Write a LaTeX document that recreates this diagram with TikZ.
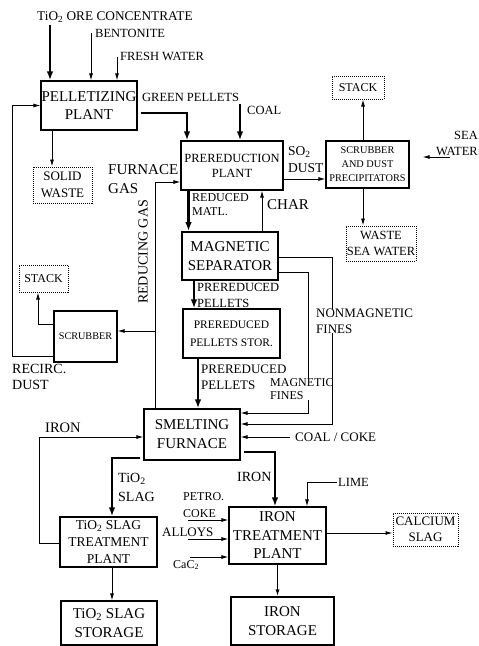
\documentclass[tikz,border=0pt]{standalone}
\usepackage{fontspec}
\setmainfont{Liberation Serif}
\usepackage{xcolor}
\usepackage{tikz}
\usetikzlibrary{shapes,arrows,arrows.meta,positioning,fit,backgrounds,calc}

\newcommand{\boxfont}{\fontsize{15}{18.5}\selectfont}
\newcommand{\lblfont}{\fontsize{12.5}{15.5}\selectfont}

\begin{document}
\begin{tikzpicture}[x=1pt, y=-1pt,
    block/.style={rectangle, draw, line width=1.1pt, inner sep=0pt, align=center, font=\boxfont},
    dotblock/.style={rectangle, draw, densely dotted, line width=1pt, inner sep=0pt, align=center, font={\fontsize{12.5}{16}\selectfont}},
    lbl/.style={inner sep=0pt, anchor=west, align=left, font=\lblfont},
    arrow/.style={-{Latex[length=7pt,width=4pt]}, line width=0.9pt},
    fat/.style={-{Latex[length=9pt,width=6.5pt]}, line width=2.6pt}]
  \useasboundingbox (0,0) rectangle (479,646);

  \node[block, minimum width=96pt, minimum height=49pt] (PP) at (89,105.5) {PELLETIZING\\PLANT};
  \node[block, minimum width=102pt, minimum height=49pt, font={\fontsize{12.5}{15}\selectfont}] (PR) at (232,165.5) {PREREDUCTION\\PLANT};
  \node[block, minimum width=83pt, minimum height=47pt, font={\fontsize{10.3}{14}\selectfont}] (SD) at (367.5,164.5) {SCRUBBER\\AND DUST\\PRECIPITATORS};
  \node[dotblock, minimum width=52pt, minimum height=23pt, font={\fontsize{12}{14}\selectfont}] (STK1) at (358,87.5) {STACK};
  \node[dotblock, minimum width=70pt, minimum height=35pt] (WSW) at (381,243.5) {WASTE\\SEA WATER};
  \node[dotblock, minimum width=59pt, minimum height=36pt, font={\fontsize{13}{17}\selectfont}] (SW) at (62.5,185) {SOLID\\WASTE};
  \node[block, line width=1.6pt, minimum width=96pt, minimum height=48pt, font={\fontsize{15}{19}\selectfont}] (MS) at (230,256) {MAGNETIC\\SEPARATOR};
  \node[block, minimum width=97pt, minimum height=49pt, font={\fontsize{11.5}{18}\selectfont}] (PS) at (231.5,333.5) {PREREDUCED\\PELLETS STOR.};
  \node[block, minimum width=63pt, minimum height=51pt, font={\fontsize{10.2}{12}\selectfont}] (SCR) at (85.5,336.5) {SCRUBBER};
  \node[dotblock, minimum width=49pt, minimum height=27pt, font={\fontsize{12}{14}\selectfont}] (STK2) at (43.5,278.5) {STACK};
  \node[block, minimum width=96pt, minimum height=51pt, font={\fontsize{15}{19}\selectfont}] (SF) at (192,434.5) {SMELTING\\FURNACE};
  \node[block, minimum width=97pt, minimum height=50pt, font={\fontsize{13.5}{17}\selectfont}] (TST) at (108.5,542) {TiO\textsubscript{2} SLAG\\TREATMENT\\PLANT};
  \node[block, minimum width=97pt, minimum height=57pt] (ITP) at (277.5,535.5) {IRON\\TREATMENT\\PLANT};
  \node[dotblock, minimum width=65pt, minimum height=33pt, font={\fontsize{13}{16}\selectfont}] (CS) at (425.5,529.5) {CALCIUM\\SLAG};
  \node[block, minimum width=96pt, minimum height=44pt, font={\fontsize{15}{19}\selectfont}] (TSS) at (109,623) {TiO\textsubscript{2} SLAG\\STORAGE};
  \node[block, minimum width=103pt, minimum height=48pt, font={\fontsize{15}{19}\selectfont}] (IS) at (282.5,621) {IRON\\STORAGE};

  \coordinate (ore) at (50,25);
  \coordinate (bent) at (91,33);
  \coordinate (fw) at (117,57);
  \coordinate (coal) at (240,104);
  \coordinate (sea) at (450,157);
  \coordinate (cc) at (290,437);
  \coordinate (lime) at (337,482);
  \coordinate (pc) at (188,520);
  \coordinate (al) at (188,539);
  \coordinate (cac) at (190,557);
  \coordinate (rg) at ($(SF.north)+(-37,0)$);
  \coordinate (scin) at ($(SCR.east)+(0,-5.5)$);

  \draw[fat] (ore) -- (ore |- PP.north);
  \draw[arrow] (bent) -- (bent |- PP.north);
  \draw[arrow] (fw) -- (fw |- PP.north);
  \draw[fat] ($(PP.east)+(3,7.5)$) -| ($(PR.north)+(-45,0)$);
  \draw[fat] (coal) -- (coal |- PR.north);
  \draw[arrow] ($(PR.east)+(0,13.5)$) -- ($(SD.west)+(0,14.5)$);
  \draw[arrow] ($(SD.north)+(-4.5,0)$) -- ($(STK1.south)+(5,0)$);
  \draw[arrow, shorten >=13pt] (sea) -- (sea -| SD.east);
  \draw[arrow] ($(SD.south)+(-4.5,0)$) -- ($(WSW.north)+(-18,0)$);
  \draw[arrow] ($(PP.south)+(-37,0)$) -- ($(SW.north)+(-10.5,0)$);
  \draw[fat] ($(PR.south)+(-43.5,0)$) -- ($(MS.north)+(-41.5,0)$);
  \draw[arrow] ($(MS.north)+(32,0)$) -- ($(PR.south)+(30,0)$);
  \draw[fat] ($(MS.south)+(-36,0)$) -- ($(PS.north)+(-37.5,0)$);
  \draw[fat] ($(PS.south)+(-33.5,0)$) -- ($(SF.north)+(6,0)$);
  \draw[arrow] ($(MS.east)+(0,16)$) -- ++(30,0) |- ($(SF.east)+(0,-21.5)$);
  \node[lbl, fill=white, font={\fontsize{12}{13}\selectfont}] (magl) at (270,389.5) {MAGNETIC\\FINES};
  \draw[arrow] ($(MS.east)+(0,1)$) -- ++(54,0) |- ($(SF.east)+(0,-10.5)$);
  \node[lbl, fill=white, font={\fontsize{13}{16}\selectfont}] (nonl) at (316,321) {NONMAGNETIC\\FINES};
  \draw[arrow] (cc) -- (cc -| SF.east);
  \draw[arrow] (rg) |- ($(PR.west)+(0,16.5)$);
  \draw[arrow] (rg |- scin) -- (scin);
  \draw[arrow] ($(SCR.west)+(0,-12.5)$) -| ($(STK2.south)+(-5.5,0)$);
  \draw[arrow] ($(SCR.west)+(0,19.5)$) -- ++(-41,0) |- (PP.west);
  \draw[fat] ($(SF.south west)+(-3,-2.5)$) -| ($(TST.north)+(3.5,0)$);
  \draw[fat] ($(SF.east)+(3,17.5)$) -| ($(ITP.north)+(-2.5,0)$);
  \draw[arrow] (lime) -| ($(ITP.north)+(29.5,0)$);
  \draw[arrow] (pc) -- (pc -| ITP.west);
  \draw[arrow] (al) -- (al -| ITP.west);
  \draw[arrow] (cac) -- (cac -| ITP.west);
  \draw[arrow] ($(ITP.east)+(0,-2.5)$) -- ($(CS.west)+(0,3.5)$);
  \draw[arrow, line width=1.3pt] (ITP.south) -- ($(IS.north)+(-5,0)$);
  \draw[arrow] ($(TST.south)+(3.5,0)$) -- ($(TSS.north)+(3,0)$);
  \draw[arrow] ($(TST.west)+(0,1)$) -- ++(-20,0) |- ($(SF.west)+(0,2.5)$);

  \node[lbl, font={\fontsize{13.3}{16}\selectfont}] (orel) at (37,17) {TiO\textsubscript{2} ORE CONCENTRATE};
  \node[lbl] (bentl) at (95,33) {BENTONITE};
  \node[lbl] (fwl) at (120,56) {FRESH WATER};
  \node[lbl] (gpl) at (142,97) {GREEN PELLETS};
  \node[lbl] (coall) at (247,110) {COAL};
  \node[lbl, font={\fontsize{13.5}{17}\selectfont}] (sol) at (288,159.5) {SO\textsubscript{2}\\DUST};
  \node[lbl, anchor=east, align=right, font={\fontsize{12.5}{16}\selectfont}] (seal) at (478,143) {SEA\\WATER};
  \node[lbl, font={\fontsize{15}{19}\selectfont}] (fgl) at (108,179.5) {FURNACE\\GAS};
  \node[lbl, font={\fontsize{12}{14}\selectfont}] (rml) at (192,205) {REDUCED\\MATL.};
  \node[lbl, font={\fontsize{15}{18}\selectfont}] (charl) at (267,205) {CHAR};
  \node[lbl, font={\fontsize{12.5}{16}\selectfont}] (pp1l) at (197,295) {PREREDUCED\\PELLETS};
  \node[lbl, font={\fontsize{13}{16}\selectfont}] (pp2l) at (201,377) {PREREDUCED\\PELLETS};
  \node[lbl, font={\fontsize{13}{16}\selectfont}] (ccl) at (295,437) {COAL / COKE};
  \node[inner sep=0pt, rotate=90, font={\fontsize{14}{16}\selectfont}] (rgl) at (143,252) {REDUCING GAS};
  \node[lbl, font={\fontsize{14}{16}\selectfont}] (rdl) at (12,377) {RECIRC.\\DUST};
  \node[lbl, font={\fontsize{14.5}{17}\selectfont}] (ir1l) at (45,428) {IRON};
  \node[lbl, font={\fontsize{14}{19}\selectfont}] (tsl) at (118,487.5) {TiO\textsubscript{2}\\SLAG};
  \node[lbl, font={\fontsize{14}{17}\selectfont}] (ir2l) at (237,477) {IRON};
  \node[lbl] (limel) at (338,482) {LIME};
  \node[lbl, font={\fontsize{12}{17}\selectfont}] (pcl) at (183,505.5) {PETRO.\\COKE};
  \node[lbl, font={\fontsize{13}{15}\selectfont}] (all) at (162,532) {ALLOYS};
  \node[lbl, font={\fontsize{12}{15}\selectfont}] (cacl) at (173,565) {CaC\textsubscript{2}};
\end{tikzpicture}
\end{document}
